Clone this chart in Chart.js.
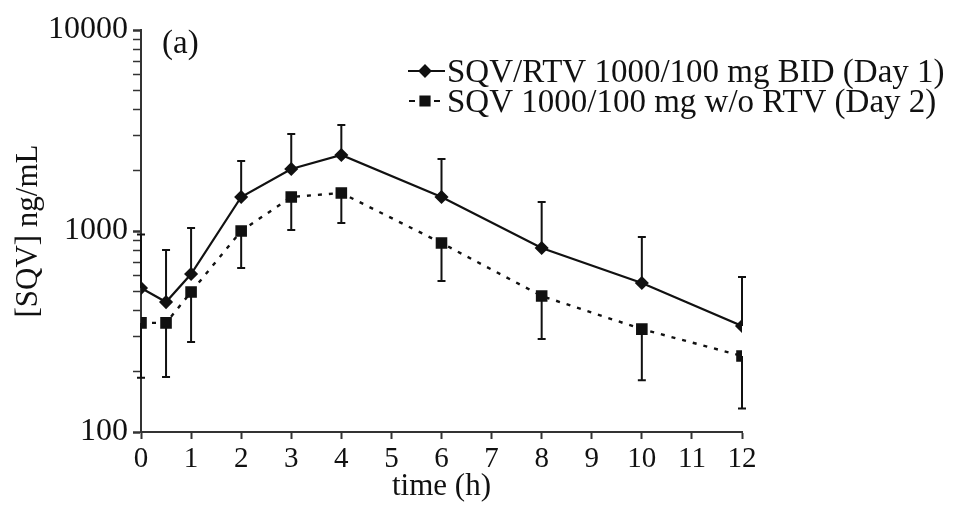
<!DOCTYPE html>
<html>
<head>
<meta charset="utf-8">
<script src="https://cdn.jsdelivr.net/npm/chart.js@4/dist/chart.umd.min.js"></script>
<style>
  html, body { margin: 0; padding: 0; background: #fff; }
  #wrap { width: 953px; height: 505px; position: relative; }
</style>
</head>
<body>
<div id="wrap"><canvas id="c"></canvas></div>
<script>
// ---- data ----
const times = [0, 0.5, 1, 2, 3, 4, 6, 8, 10, 12];
const day1Mean  = [520, 443, 611, 1476, 2034, 2390, 1476, 823, 551, 337];
const day1Upper = [960, 804, 1035, 2230, 3040, 3370, 2280, 1394, 934, 590];
const day2Mean  = [349, 349, 497, 1000, 1476, 1546, 871, 475, 325, 239];
const day2Lower = [186, 188, 280, 655, 1011, 1096, 564, 290, 181, 131];
const seriesLabels = ['SQV/RTV 1000/100 mg BID (Day 1)', 'SQV 1000/100 mg w/o RTV (Day 2)'];
const yMajorTicks = [100, 1000, 10000];
const yMinorTicks = [200, 300, 400, 500, 600, 700, 800, 900, 2000, 3000, 4000, 5000, 6000, 7000, 8000, 9000];
const xTicks = [0, 1, 2, 3, 4, 5, 6, 7, 8, 9, 10, 11, 12];
const panelLabel = '(a)';
const xTitle = 'time (h)';
const yTitle = '[SQV] ng/mL';

const INK = '#111';
const FONT = '"Liberation Serif", "Times New Roman", serif';

const errorBars = {
  id: 'errorBars',
  beforeDatasetsDraw(chart) {
    const {ctx, scales: {x, y}} = chart;
    ctx.save();
    ctx.strokeStyle = INK;
    ctx.lineWidth = 2;
    ctx.setLineDash([]);
    chart.data.datasets.forEach(ds => {
      const ends = ds.errEnds;
      if (!ends) return;
      ds.data.forEach((p, i) => {
        const px = x.getPixelForValue(p.x);
        const py0 = y.getPixelForValue(p.y);
        const py1 = y.getPixelForValue(ends[i]);
        ctx.beginPath();
        ctx.moveTo(px, py0); ctx.lineTo(px, py1);
        ctx.moveTo(px - 4, py1); ctx.lineTo(px + 4, py1);
        ctx.stroke();
      });
    });
    ctx.restore();
  }
};

const annotations = {
  id: 'annotations',
  afterDraw(chart) {
    const {ctx} = chart;
    ctx.save();
    ctx.fillStyle = INK;
    ctx.strokeStyle = INK;
    ctx.textBaseline = 'middle';
    ctx.textAlign = 'left';
    ctx.font = '33px ' + FONT;
    ctx.fillText(panelLabel, 162, 44);
    // legend
    const rows = [
      {y: 71, ds: chart.data.datasets[0]},
      {y: 101, ds: chart.data.datasets[1]}
    ];
    rows.forEach((r, i) => {
      ctx.lineWidth = 2;
      ctx.setLineDash([]);
      ctx.beginPath();
      if (i === 0) { ctx.moveTo(408, r.y); ctx.lineTo(445, r.y); }
      else { ctx.moveTo(409, r.y); ctx.lineTo(415, r.y); ctx.moveTo(434, r.y); ctx.lineTo(440, r.y); }
      ctx.stroke();
      Chart.helpers.drawPoint(ctx, {pointStyle: r.ds.pointStyle, radius: r.ds.pointRadius, borderWidth: 1}, 425, r.y);
      ctx.fill();
      ctx.fillText(r.ds.label, 447, r.y + 2);
    });
    ctx.restore();
  }
};

new Chart(document.getElementById('c'), {
  type: 'line',
  data: {
    datasets: [
      {
        label: seriesLabels[0],
        data: times.map((t, i) => ({x: t, y: day1Mean[i]})),
        errEnds: day1Upper,
        borderColor: INK, backgroundColor: INK, borderWidth: 2.2,
        pointStyle: 'rectRot', pointRadius: 5.5, pointBackgroundColor: INK, pointBorderColor: INK,
        tension: 0
      },
      {
        label: seriesLabels[1],
        data: times.map((t, i) => ({x: t, y: day2Mean[i]})),
        errEnds: day2Lower,
        borderColor: INK, backgroundColor: INK, borderWidth: 2.4, borderDash: [4, 7],
        pointStyle: 'rect', pointRadius: 6.5, pointBackgroundColor: INK, pointBorderColor: INK,
        tension: 0
      }
    ]
  },
  options: {
    responsive: true,
    maintainAspectRatio: false,
    animation: false,
    layout: {padding: {left: 0, top: 30, right: 211, bottom: 0}},
    plugins: {legend: {display: false}, tooltip: {enabled: false}},
    scales: {
      x: {
        type: 'linear', min: 0, max: 12,
        afterBuildTicks(s) { s.ticks = xTicks.map(v => ({value: v})); },
        afterFit(s) { s.height = 73; },
        ticks: {color: INK, font: {family: FONT, size: 29}, padding: 3, autoSkip: false, maxRotation: 0},
        grid: {display: true, drawOnChartArea: false, drawTicks: true, tickLength: 7, tickWidth: 2, tickColor: '#333'},
        border: {display: true, color: '#333', width: 2},
        title: {display: true, text: xTitle, color: INK, font: {family: FONT, size: 31}, padding: {top: 0, bottom: 0}}
      },
      y: {
        type: 'logarithmic', min: 100, max: 10000,
        afterBuildTicks(s) {
          s.ticks = yMajorTicks.concat(yMinorTicks).sort((a, b) => a - b).map(v => ({value: v, major: yMajorTicks.includes(v)}));
        },
        afterFit(s) { s.width = 141; },
        ticks: {
          color: INK, font: {family: FONT, size: 32}, padding: 5, autoSkip: false,
          callback: v => yMajorTicks.includes(v) ? String(v) : ''
        },
        grid: {
          display: true, drawOnChartArea: false, drawTicks: true, tickLength: 8,
          tickWidth: c => (c.tick && yMajorTicks.includes(c.tick.value)) ? 2.5 : 1.5,
          tickColor: '#333'
        },
        border: {display: true, color: '#333', width: 2},
        title: {display: true, text: yTitle, color: INK, font: {family: FONT, size: 31}, padding: {top: 10, bottom: 0}}
      }
    }
  },
  plugins: [errorBars, annotations]
});
</script>
</body>
</html>
